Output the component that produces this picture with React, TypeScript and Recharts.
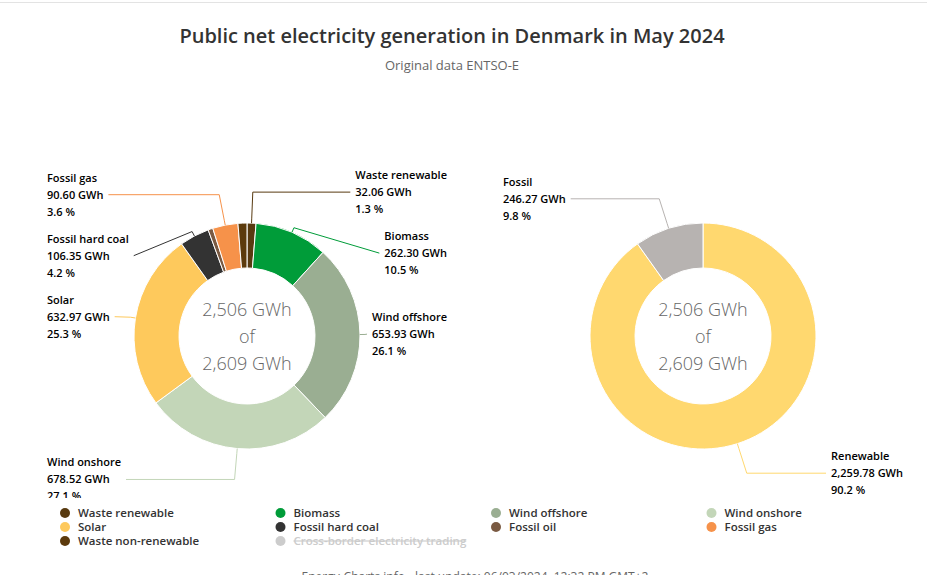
import React from "react";
import { PieChart, Pie, Cell } from "recharts";

// ---------- data ----------
const sourceNames = [
  "Waste renewable",
  "Biomass",
  "Wind offshore",
  "Wind onshore",
  "Solar",
  "Fossil hard coal",
  "Fossil oil",
  "Fossil gas",
  "Waste non-renewable",
];
const sourceValues = [32.06, 262.3, 653.93, 678.52, 632.97, 106.35, 17.26, 90.6, 32.06];
const sourceColors = [
  "#583a10",
  "#009c39",
  "#9aae92",
  "#c3d6b8",
  "#fec95c",
  "#333333",
  "#7a5a42",
  "#f6924a",
  "#5c3a0c",
];

const groupNames = ["Renewable", "Fossil"];
const groupValues = [2259.78, 246.27];
const groupColors = ["#ffd86f", "#b7b3b1"];

const legendNames = [...sourceNames, "Cross-border electricity trading"];
const legendColors = [...sourceColors, "#cccccc"];
const legendDisabled = [false, false, false, false, false, false, false, false, false, true];

const totalWithTrading = 2609;

const titleText = "Public net electricity generation in Denmark in May 2024";
const subtitleText = "Original data ENTSO-E";
const footerText = "Energy-Charts.info - last update: 06/03/2024, 12:32 PM GMT+2";

// ---------- layout constants ----------
const W = 927;
const H = 575;
const CHART_H = 498;
const CY = 336;
const LEFT_CX = 247;
const RIGHT_CX = 703;
const OUTER_R = 113;
const INNER_R = 68;
const LABEL_DIST = 31;
const SLOT = 61;
const MAX_SHIFT = 84;
const PLOT_HALF = 200;
const FONT = "'Open Sans', 'Noto Sans', sans-serif";
const LABEL_FONT_SIZE = 11;
const LABEL_WEIGHT = 600;

const fmtNum = (v: number, d: number) =>
  v.toLocaleString("en-US", { minimumFractionDigits: d, maximumFractionDigits: d });

let ctx: CanvasRenderingContext2D | null = null;
function measure(text: string): number {
  if (!ctx) {
    const c = document.createElement("canvas");
    ctx = c.getContext("2d");
  }
  if (!ctx) return text.length * 6;
  ctx.font = `${LABEL_WEIGHT} ${LABEL_FONT_SIZE}px 'Open Sans'`;
  return ctx.measureText(text).width;
}

type Place = { i: number; v: number; right: boolean; natY: number; y: number; visible: boolean };

function layoutLabels(values: number[], cy: number, R: number, d: number): Place[] {
  const total = values.reduce((a, b) => a + b, 0);
  let cum = 0;
  const items: Place[] = values.map((v, i) => {
    const theta = ((cum + v / 2) / total) * 2 * Math.PI;
    cum += v;
    const natY = cy - (R + d) * Math.cos(theta);
    return { i, v, right: theta < Math.PI, natY, y: natY, visible: true };
  });
  for (const side of [true, false]) {
    let group = items.filter((it) => it.right === side).sort((a, b) => a.natY - b.natY);
    while (group.length) {
      let prev = -Infinity;
      let ok = true;
      for (const it of group) {
        it.y = Math.max(it.natY, prev + SLOT, cy - R - d);
        prev = it.y;
        if (it.y - it.natY > MAX_SHIFT) ok = false;
      }
      if (ok) break;
      const smallest = group.reduce((m, it) => (it.v < m.v ? it : m));
      smallest.visible = false;
      group = group.filter((it) => it !== smallest);
    }
  }
  return items;
}

function makeLabel(names: string[], values: number[], layout: Place[], plotLeft: number, plotRight: number) {
  const total = values.reduce((a, b) => a + b, 0);
  return (props: any) => {
    const { cx, cy, midAngle, outerRadius, index, fill } = props;
    const place = layout[index];
    if (!place || !place.visible) return <g key={`l-${index}`} />;
    const RAD = Math.PI / 180;
    const pol = (r: number) => ({
      x: cx + r * Math.cos(-midAngle * RAD),
      y: cy + r * Math.sin(-midAngle * RAD),
    });
    const touch = pol(outerRadius);
    const brk = pol(outerRadius + 5);
    const nat = pol(outerRadius + LABEL_DIST);
    const y = place.y;
    const lines = [
      names[index],
      `${fmtNum(values[index], 2)} GWh`,
      `${fmtNum((values[index] / total) * 100, 1)} %`,
    ];
    const width = Math.max(...lines.map(measure));
    let textX: number;
    let connX: number;
    let crook: boolean;
    const shifted = Math.abs(y - nat.y) > 1.5;
    if (place.right) {
      textX = plotRight - width;
      connX = textX - 5;
      crook = !shifted && nat.x >= brk.x - 3 && nat.x <= connX;
    } else {
      textX = plotLeft;
      connX = plotLeft + width + 5;
      crook = !shifted && nat.x <= brk.x + 3 && nat.x >= connX;
    }
    const d =
      `M ${connX} ${y}` +
      (crook ? ` L ${nat.x} ${y}` : "") +
      ` L ${brk.x} ${brk.y} L ${touch.x} ${touch.y}`;
    return (
      <g key={`l-${index}`}>
        <path d={d} stroke={fill} strokeWidth={1} fill="none" />
        {lines.map((t, k) => (
          <text
            key={k}
            x={textX}
            y={y + 4 + (k - 1) * 17}
            fontSize={LABEL_FONT_SIZE}
            fontWeight={LABEL_WEIGHT}
            fill="#000000"
            fontFamily={FONT}
            textAnchor="start"
          >
            {t}
          </text>
        ))}
      </g>
    );
  };
}

const sourceData = sourceNames.map((name, i) => ({ name, value: sourceValues[i] }));
const groupData = groupNames.map((name, i) => ({ name, value: groupValues[i] }));

const sourceLayout = layoutLabels(sourceValues, CY, OUTER_R, LABEL_DIST);
const groupLayout = layoutLabels(groupValues, CY, OUTER_R, LABEL_DIST);

const generated = sourceValues.reduce((a, b) => a + b, 0);

function CenterText({ cx }: { cx: number }) {
  const lines = [`${fmtNum(Math.round(generated), 0)} GWh`, "of", `${fmtNum(totalWithTrading, 0)} GWh`];
  return (
    <g>
      {lines.map((t, k) => (
        <text
          key={k}
          x={cx}
          y={CY - 27 + k * 27 + 6.5}
          textAnchor="middle"
          fontSize={18}
          fontWeight={300}
          fill="#666666"
          fontFamily={FONT}
        >
          {t}
        </text>
      ))}
    </g>
  );
}

export default function App() {
  const legendX0 = 65;
  const legendColW = 215.5;
  const legendY0 = 513;
  const legendRowH = 14;
  return (
    <div
      style={{
        position: "absolute",
        left: 0,
        top: 0,
        width: W,
        height: H,
        overflow: "hidden",
        background: "#ffffff",
        fontFamily: FONT,
      }}
    >
      <div style={{ position: "absolute", left: 0, top: 0, width: W, height: CHART_H }}>
        <PieChart width={W} height={CHART_H} margin={{ top: 0, right: 0, bottom: 0, left: 0 }}>
          <Pie
            data={sourceData}
            dataKey="value"
            nameKey="name"
            cx={LEFT_CX}
            cy={CY}
            innerRadius={INNER_R}
            outerRadius={OUTER_R}
            startAngle={90}
            endAngle={-270}
            stroke="#ffffff"
            strokeWidth={1}
            isAnimationActive={false}
            labelLine={false}
            label={makeLabel(sourceNames, sourceValues, sourceLayout, LEFT_CX - PLOT_HALF, LEFT_CX + PLOT_HALF)}
          >
            {sourceData.map((_, i) => (
              <Cell key={i} fill={sourceColors[i]} />
            ))}
          </Pie>
          <Pie
            data={groupData}
            dataKey="value"
            nameKey="name"
            cx={RIGHT_CX}
            cy={CY}
            innerRadius={INNER_R}
            outerRadius={OUTER_R}
            startAngle={90}
            endAngle={-270}
            stroke="#ffffff"
            strokeWidth={1}
            isAnimationActive={false}
            labelLine={false}
            label={makeLabel(groupNames, groupValues, groupLayout, RIGHT_CX - PLOT_HALF, RIGHT_CX + PLOT_HALF)}
          >
            {groupData.map((_, i) => (
              <Cell key={i} fill={groupColors[i]} />
            ))}
          </Pie>
        </PieChart>
      </div>
      <svg
        width={W}
        height={H}
        style={{ position: "absolute", left: 0, top: 0, pointerEvents: "none" }}
      >
        <line x1={0} x2={W} y1={2.5} y2={2.5} stroke="#e3e3e3" strokeWidth={1} />
        <text x={452} y={43} textAnchor="middle" fontSize={20} fontWeight={600} fill="#333333" fontFamily={FONT}>
          {titleText}
        </text>
        <text x={452} y={69.5} textAnchor="middle" fontSize={13} fill="#666666" fontFamily={FONT}>
          {subtitleText}
        </text>
        <CenterText cx={LEFT_CX} />
        <CenterText cx={RIGHT_CX} />
        {legendNames.map((name, i) => {
          const col = i % 4;
          const row = Math.floor(i / 4);
          const x = legendX0 + col * legendColW;
          const y = legendY0 + row * legendRowH;
          const dis = legendDisabled[i];
          return (
            <g key={name}>
              <circle cx={x} cy={y} r={5} fill={dis ? "#cccccc" : legendColors[i]} />
              <text
                x={x + 13}
                y={y + 4}
                fontSize={11.5}
                fontWeight={600}
                fill={dis ? "#cccccc" : "#333333"}
                fontFamily={FONT}
                textDecoration={dis ? "line-through" : undefined}
                style={dis ? { textDecoration: "line-through" } : undefined}
              >
                {name}
              </text>
            </g>
          );
        })}
        <text x={475} y={581} textAnchor="middle" fontSize={12} fill="#666666" fontFamily={FONT}>
          {footerText}
        </text>
      </svg>
    </div>
  );
}
